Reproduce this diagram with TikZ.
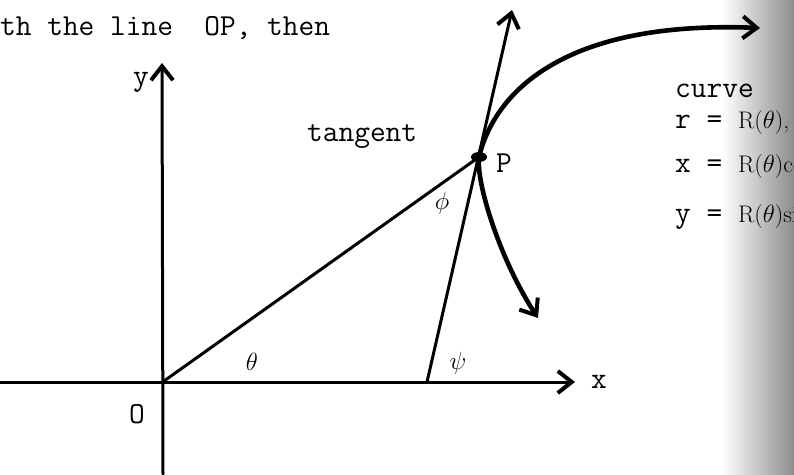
\documentclass[tikz,border=0pt]{standalone}
\usetikzlibrary{arrows.meta}
\begin{document}
\begin{tikzpicture}[x=1pt,y=-1pt,
  ax/.style={line width=3pt, line cap=round},
  crv/.style={line width=4.6pt, line cap=round},
  barbtip/.tip={Straight Barb[length=14pt,width=22pt,line width=4pt]},
  tt/.style={font=\fontsize{30.5}{33}\selectfont\ttfamily, inner sep=0pt},
  gr/.style={font=\fontsize{26}{28}\selectfont, inner sep=0pt}]
\useasboundingbox (0,0) rectangle (794,474);
\clip (0,0) rectangle (794,474);
\fill[white] (0,0) rectangle (794,474);
\shade[left color=white, right color=black!45] (722,0) rectangle (794,474);

% points
\coordinate (O) at (164,381);
\coordinate (P) at (479,157);
\coordinate (Xl) at (0,382);
\coordinate (Xr) at (575,382);
\coordinate (Yb) at (163,474);
\coordinate (Yt) at (162,63);
\coordinate (T0) at (427,382);
\coordinate (T1) at (512,10);
\coordinate (Cdown) at (538,318);
\coordinate (Cup) at (760,28);

% axes
\draw[ax, -barbtip] (Xl) -- (Xr);
\draw[ax, -barbtip] (Yb) -- (Yt);
% OP and tangent
\draw[ax] (O) -- (P);
\draw[ax, -barbtip] (T0) -- (T1);
% curve
\draw[crv, barbtip-barbtip] (Cdown) .. controls (500,260) and (476,183) .. (P)
      .. controls (494,95) and (560,20) .. (Cup);
\fill (P) ellipse (8pt and 5pt);

% labels
\node[tt, anchor=base west] (top) at (0,35) {th the line\ \ OP, then};
\node[tt, anchor=base west] (tan) at (307,141) {tangent};
\node[tt, anchor=base west] (ylab) at (133,85) {y};
\node[tt, anchor=base west] (xlab) at (591,388) {x};
\node[tt, anchor=base west] (Olab) at (129,423) {O};
\node[tt, anchor=base west] (Plab) at (496,172) {P};
\node[gr] (th) at (252,362) {$\theta$};
\node[gr] (psi) at (458,363) {$\psi$};
\node[gr] (phi) at (442,203) {$\phi$};

\node[tt, anchor=base west] (cv) at (675,97) {curve};
\node[tt, anchor=base west] (e1) at (675,128) {r = {\fontsize{24}{26}\selectfont\rmfamily R($\theta$),}};
\node[tt, anchor=base west] (e2) at (675,172) {x = {\fontsize{24}{26}\selectfont\rmfamily R($\theta$)cos $\theta$}};
\node[tt, anchor=base west] (e3) at (675,222) {y = {\fontsize{24}{26}\selectfont\rmfamily R($\theta$)sin $\theta$}};
\end{tikzpicture}
\end{document}
